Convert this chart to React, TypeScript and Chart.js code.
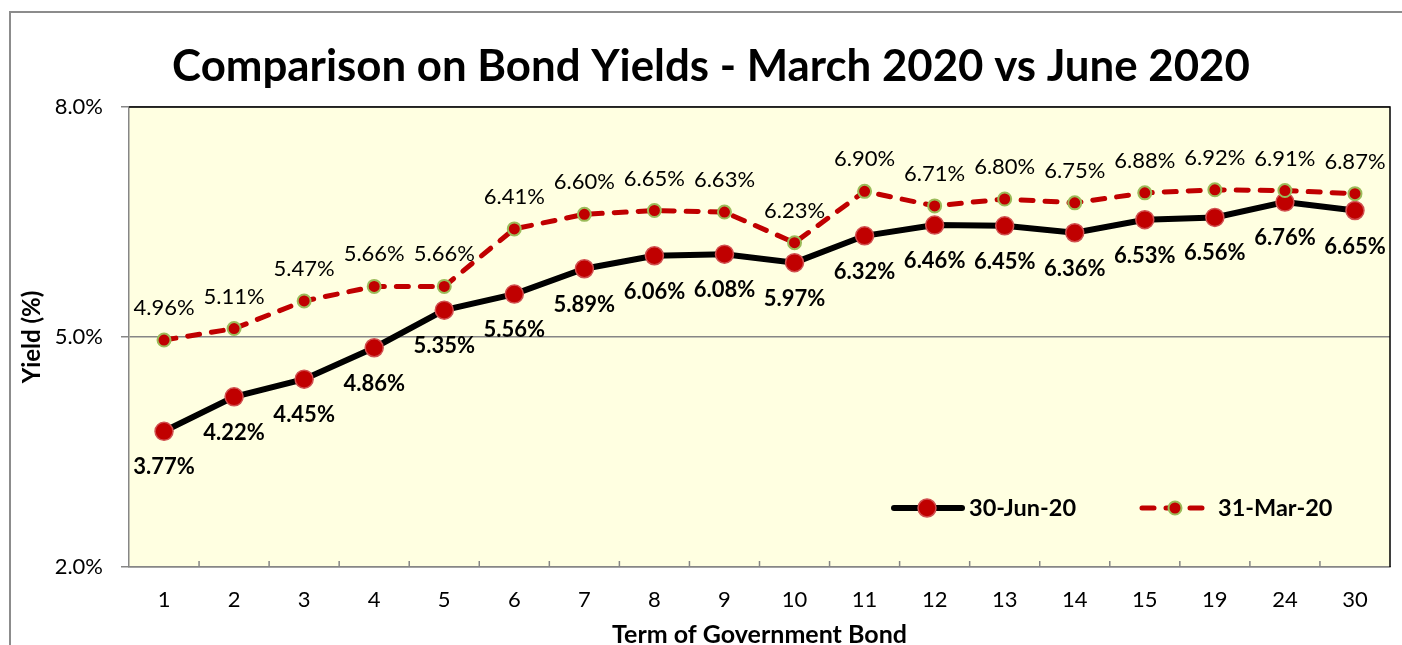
import React, { useEffect, useRef } from 'react';
import { Chart, registerables } from 'chart.js';

Chart.register(...registerables);

// ---- Data ----
const terms = ['1', '2', '3', '4', '5', '6', '7', '8', '9', '10', '11', '12', '13', '14', '15', '19', '24', '30'];
const june2020 = [3.77, 4.22, 4.45, 4.86, 5.35, 5.56, 5.89, 6.06, 6.08, 5.97, 6.32, 6.46, 6.45, 6.36, 6.53, 6.56, 6.76, 6.65];
const march2020 = [4.96, 5.11, 5.47, 5.66, 5.66, 6.41, 6.60, 6.65, 6.63, 6.23, 6.90, 6.71, 6.80, 6.75, 6.88, 6.92, 6.91, 6.87];
const seriesNames = ['30-Jun-20', '31-Mar-20'];
const yMin = 2;
const yMax = 8;
const yStep = 3;
const chartTitle = 'Comparison on Bond Yields - March 2020 vs June 2020';
const xAxisTitle = 'Term of Government Bond';
const yAxisTitle = 'Yield (%)';

const FONT = 'Lato';
const RED = '#C00000';
const GREEN = '#9BBB59';
const GRAY = '#868686';

const decorPlugin = {
  id: 'decor',
  beforeDraw(chart: any) {
    const { ctx, chartArea: a, width, height } = chart;
    ctx.save();
    ctx.fillStyle = '#ffffff';
    ctx.fillRect(0, 0, width, height);
    // outer frame
    ctx.strokeStyle = '#8c8c8c';
    ctx.lineWidth = 2;
    ctx.beginPath();
    ctx.moveTo(10, height + 5);
    ctx.lineTo(10, 12);
    ctx.lineTo(width + 5, 12);
    ctx.stroke();
    // plot background
    ctx.fillStyle = '#FFFFE1';
    ctx.fillRect(a.left, a.top, a.right - a.left, a.bottom - a.top);
    // title
    ctx.fillStyle = '#000';
    ctx.textAlign = 'center';
    ctx.textBaseline = 'alphabetic';
    ctx.font = `bold 100px ${FONT}`;
    const w = ctx.measureText(chartTitle).width;
    const size = (100 * 1078) / w;
    ctx.font = `bold ${size.toFixed(1)}px ${FONT}`;
    ctx.fillText(chartTitle, 711, 81);
    ctx.restore();
  },
  afterDatasetsDraw(chart: any) {
    const { ctx } = chart;
    ctx.save();
    ctx.textAlign = 'center';
    ctx.textBaseline = 'middle';
    ctx.fillStyle = '#000';
    chart.data.datasets.forEach((ds: any, di: number) => {
      const meta = chart.getDatasetMeta(di);
      const below = di === 0;
      ctx.font = below ? `bold 22px ${FONT}` : `22px ${FONT}`;
      meta.data.forEach((el: any, i: number) => {
        const v = ds.data[i] as number;
        const y = below ? el.y + 36 : el.y - 32;
        ctx.fillText(v.toFixed(2) + '%', el.x, y);
      });
    });
    ctx.restore();
  },
  afterDraw(chart: any) {
    const { ctx, chartArea: a } = chart;
    const xs = chart.scales.x;
    ctx.save();
    // top / right border of plot
    ctx.strokeStyle = '#000';
    ctx.lineWidth = 1.5;
    ctx.beginPath();
    ctx.moveTo(a.left, a.top);
    ctx.lineTo(a.right, a.top);
    ctx.lineTo(a.right, a.bottom);
    ctx.stroke();
    // inside tick marks on category boundaries
    ctx.strokeStyle = GRAY;
    ctx.lineWidth = 1.5;
    for (let i = 1; i < terms.length; i++) {
      const x = (xs.getPixelForValue(i - 1) + xs.getPixelForValue(i)) / 2;
      ctx.beginPath();
      ctx.moveTo(x, a.bottom);
      ctx.lineTo(x, a.bottom - 6);
      ctx.stroke();
    }
    // legend
    const ly = 508;
    ctx.lineCap = 'round';
    // June
    ctx.strokeStyle = '#000';
    ctx.lineWidth = 6;
    ctx.beginPath();
    ctx.moveTo(894, ly);
    ctx.lineTo(962, ly);
    ctx.stroke();
    ctx.fillStyle = RED;
    ctx.strokeStyle = '#D05050';
    ctx.lineWidth = 1.5;
    ctx.beginPath();
    ctx.arc(927, ly, 9, 0, Math.PI * 2);
    ctx.fill();
    ctx.stroke();
    // March
    ctx.strokeStyle = RED;
    ctx.lineWidth = 5;
    ctx.setLineDash([12, 12]);
    ctx.beginPath();
    ctx.moveTo(1142, ly);
    ctx.lineTo(1206, ly);
    ctx.stroke();
    ctx.setLineDash([]);
    ctx.fillStyle = RED;
    ctx.strokeStyle = GREEN;
    ctx.lineWidth = 2;
    ctx.beginPath();
    ctx.arc(1175, ly, 6.5, 0, Math.PI * 2);
    ctx.fill();
    ctx.stroke();
    // legend text
    ctx.fillStyle = '#000';
    ctx.font = `bold 23.5px ${FONT}`;
    ctx.textAlign = 'left';
    ctx.textBaseline = 'middle';
    ctx.fillText(seriesNames[0], 969, ly);
    ctx.fillText(seriesNames[1], 1218, ly);
    ctx.restore();
  },
};

export default function App() {
  const ref = useRef<HTMLCanvasElement | null>(null);

  useEffect(() => {
    if (!ref.current) return;
    const chart = new Chart(ref.current, {
      type: 'line',
      data: {
        labels: terms,
        datasets: [
          {
            label: seriesNames[0],
            data: june2020,
            borderColor: '#000',
            borderWidth: 6,
            pointRadius: 9,
            pointBackgroundColor: RED,
            pointBorderColor: '#D05050',
            pointBorderWidth: 1.5,
            tension: 0,
            order: 1,
          },
          {
            label: seriesNames[1],
            data: march2020,
            borderColor: RED,
            borderWidth: 5,
            borderDash: [12, 12],
            borderCapStyle: 'round',
            pointRadius: 6.5,
            pointBackgroundColor: RED,
            pointBorderColor: GREEN,
            pointBorderWidth: 2,
            tension: 0,
            order: 0,
          },
        ],
      },
      options: {
        responsive: false,
        animation: false,
        devicePixelRatio: 1,
        layout: { padding: { left: 0, right: 12, top: 107, bottom: 0 } },
        plugins: {
          legend: { display: false },
          title: { display: false },
          tooltip: { enabled: false },
        },
        scales: {
          x: {
            type: 'category',
            offset: true,
            grid: { display: false, drawTicks: false },
            border: { display: true, color: GRAY, width: 1.5 },
            ticks: {
              color: '#000',
              font: { family: FONT, size: 22 },
              padding: 20,
              maxRotation: 0,
              autoSkip: false,
            },
            title: {
              display: true,
              text: xAxisTitle,
              color: '#000',
              font: { family: FONT, size: 25, weight: 'bold' },
              padding: { top: 0, bottom: -5 },
            },
            afterFit(scale: any) {
              scale.height = 78;
            },
          },
          y: {
            min: yMin,
            max: yMax,
            grid: {
              color: GRAY,
              lineWidth: 1.5,
              tickLength: 8,
              tickColor: GRAY,
            },
            border: { display: true, color: GRAY, width: 1.5 },
            ticks: {
              stepSize: yStep,
              color: '#000',
              font: { family: FONT, size: 22 },
              padding: 18,
              callback: (v: any) => Number(v).toFixed(1) + '%',
            },
            title: {
              display: true,
              text: yAxisTitle,
              color: '#000',
              font: { family: FONT, size: 24, weight: 'bold' },
              padding: { top: 18, bottom: 0 },
            },
            afterFit(scale: any) {
              scale.width = 129;
            },
          },
        },
      },
      plugins: [decorPlugin],
    });
    return () => chart.destroy();
  }, []);

  return (
    <div style={{ position: 'fixed', left: 0, top: 0, width: 1402, height: 645 }}>
      <canvas ref={ref} width={1402} height={645} style={{ width: 1402, height: 645, display: 'block' }} />
    </div>
  );
}
